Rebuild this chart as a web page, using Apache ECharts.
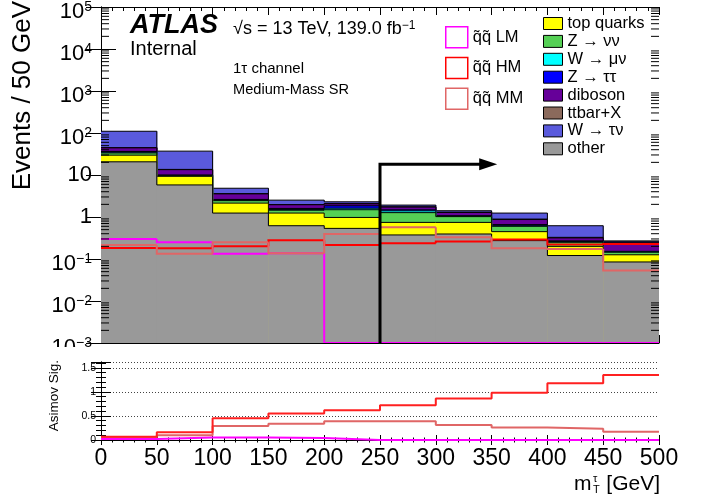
<!DOCTYPE html>
<html><head><meta charset="utf-8">
<script src="https://cdn.jsdelivr.net/npm/echarts@6/dist/echarts.min.js"></script>
<style>html,body{margin:0;padding:0;background:#fff}#c{width:702px;height:501px}</style>
</head><body><div id="c"></div>
<script>
// ---- data ----
const binEdges = [0, 50, 100, 150, 200, 250, 300, 350, 400, 450, 500];
const xTickLabels = ['0','50','100','150','200','250','300','350','400','450','500'];
// backgrounds (Events / 50 GeV), stacking order bottom -> top
const other    = [20.6, 5.8, 1.24, 0.62, 0.536, 0.374, 0.394, 0.274, 0.121, 0.085];
const topQuarks= [9.1, 3.5, 0.90, 0.62, 0.44, 0.37, 0.35, 0.174, 0.079, 0.041];
const zNuNu    = [3.8, 0.3, 0.31, 0.21, 0.515, 0.527, 0.277, 0.152, 0.05, 0.019];
const wMuNu    = [1.5, 0.2, 0.07, 0.05, 0.13, 0.13, 0.02, 0.02, 0.01, 0.003];
const zTauTau  = [1.4, 0.2, 0.10, 0.10, 0.23, 0.08, 0.03, 0.04, 0.01, 0.004];
const diboson  = [7.9, 3.4, 0.93, 0.36, 0.21, 0.24, 0.21, 0.21, 0.048, 0.098];
const ttbarX   = [0.7, 0.2, 0.05, 0.02, 0.03, 0.03, 0.02, 0.023, 0.01, 0.005];
const wTauNu   = [65, 23.4, 1.24, 0.54, 0.21, 0.17, 0.11, 0.347, 0.292, 0.015];
// signals
const sigLM = [0.30, 0.25, 0.133, 0.137, 0, 0, 0, 0, 0, 0];
const sigHM = [0.184, 0.18, 0.20, 0.279, 0.216, 0.237, 0.26, 0.29, 0.222, 0.229];
const sigMM = [0.216, 0.133, 0.25, 0.137, 0.394, 0.567, 0.33, 0.18, 0.172, 0.053];
// Asimov significance
const zHM = [0.07, 0.16, 0.45, 0.55, 0.62, 0.72, 0.86, 0.98, 1.18, 1.35];
const zMM = [0.05, 0.10, 0.29, 0.34, 0.39, 0.39, 0.31, 0.26, 0.235, 0.17];
const zLM = [0.02, 0.05, 0.05, 0.04, 0, 0, 0, 0, 0, 0];
// main y-axis tick labels (exponent -3 .. 5)
const yTickLabels = ['{b|10}{s|\u22123}','{b|10}{s|\u22122}','{b|10}{s|\u22121}','{p|1}','{p|10}','{b|10}{s|2}','{b|10}{s|3}','{b|10}{s|4}','{b|10}{s|5}'];
const yLowTickLabels = ['0', '0.5', '1', '1.5'];
// selection cut
const cutX = 250, arrowY = 18, arrowEnd = 355;

// ---- styling ----
const F = 'Liberation Sans, Arial, Helvetica, sans-serif';
const Y_MIN = 1e-3, Y_MAX = 1e5;
const bgNames  = ['other','top quarks','Z \u2192 \u03bd\u03bd','W \u2192 \u03bc\u03bd','Z \u2192 \u03c4\u03c4','diboson','ttbar+X','W \u2192 \u03c4\u03bd'];
const bgArrays = [other, topQuarks, zNuNu, wMuNu, zTauTau, diboson, ttbarX, wTauNu];
const bgColors = ['#999999','#ffff00','#55d055','#00ffff','#0000ff','#660099','#8b6a5c','#5a5adc'];
const legendOrder = [1,2,3,4,5,6,7,0];
const sigNames  = ['q\u0303q\u0303 LM','q\u0303q\u0303 HM','q\u0303q\u0303 MM'];
const sigArrays = [sigLM, sigHM, sigMM];
const sigColors = ['#ff00ff','#ff0000','#e06666'];

function stepItems(vals) {
  return vals.map((v, i) => [binEdges[i], binEdges[i + 1], v, i > 0 ? vals[i - 1] : v]);
}
function renderHist(fill, stroke, lw) {
  return function (params, api) {
    const x0 = api.value(0), x1 = api.value(1);
    const v = Math.max(api.value(2), Y_MIN), pv = Math.max(api.value(3), Y_MIN);
    const a = api.coord([x0, v]), b = api.coord([x1, v]), c = api.coord([x0, pv]);
    const base = api.coord([x0, Y_MIN]);
    const ch = [];
    if (fill) ch.push({type: 'rect', shape: {x: a[0], y: a[1], width: b[0] - a[0] + 0.5, height: base[1] - a[1]}, style: {fill: fill}});
    ch.push({type: 'polyline', shape: {points: [c, a, b]}, style: {stroke: stroke, lineWidth: lw, fill: null}});
    return {type: 'group', children: ch};
  };
}

// cumulative stack
const cums = [];
bgArrays.forEach((arr, k) => {
  cums.push(arr.map((v, i) => v + (k > 0 ? cums[k - 1][i] : 0)));
});

const series = [];
for (let k = bgArrays.length - 1; k >= 0; k--) {
  series.push({
    type: 'custom', name: bgNames[k], xAxisIndex: 0, yAxisIndex: 0, clip: true,
    itemStyle: {color: bgColors[k]},
    encode: {x: [0, 1], y: 2},
    data: stepItems(cums[k]),
    renderItem: renderHist(bgColors[k], '#000', 1)
  });
}
sigArrays.forEach((arr, i) => {
  series.push({
    type: 'custom', name: sigNames[i], xAxisIndex: 0, yAxisIndex: 0, clip: true,
    itemStyle: {color: sigColors[i]},
    encode: {x: [0, 1], y: 2},
    data: stepItems(arr),
    renderItem: renderHist(null, sigColors[i], 2)
  });
});
// cut arrow
series.push({
  type: 'custom', name: 'cut', xAxisIndex: 0, yAxisIndex: 0, clip: false,
  encode: {x: [0, 2], y: 1},
  data: [[cutX, arrowY, arrowEnd]],
  renderItem: function (params, api) {
    const b = api.coord([api.value(0), Y_MIN]), t = api.coord([api.value(0), api.value(1)]);
    const e = api.coord([api.value(2), api.value(1)]);
    const hl = 18, hw = 6;
    return {type: 'group', children: [
      {type: 'polyline', shape: {points: [b, t, [e[0] - hl + 2, e[1]]]}, style: {stroke: '#000', lineWidth: 3, fill: null}},
      {type: 'polygon', shape: {points: [[e[0] - hl, e[1] - hw], [e[0], e[1]], [e[0] - hl, e[1] + hw]]}, style: {fill: '#000'}}
    ]};
  }
});
// minor log ticks on main panel
const decades = [-3, -2, -1, 0, 1, 2, 3, 4];
series.push({
  type: 'custom', name: 'minorticks', xAxisIndex: 0, yAxisIndex: 0, clip: false, silent: true,
  encode: {x: 0, y: 1},
  data: [[0, 1]],
  renderItem: function (params, api) {
    const ch = [];
    decades.forEach(n => {
      for (let k = 2; k <= 9; k++) {
        const v = k * Math.pow(10, n);
        const l = api.coord([0, v]), r = api.coord([500, v]);
        ch.push({type: 'line', shape: {x1: l[0], y1: l[1], x2: l[0] + 8, y2: l[1]}, style: {stroke: '#000', lineWidth: 1}});
        ch.push({type: 'line', shape: {x1: r[0], y1: r[1], x2: r[0] - 8, y2: r[1]}, style: {stroke: '#000', lineWidth: 1}});
      }
    });
    return {type: 'group', children: ch};
  }
});
// significance panel
function stepLine(vals) {
  const d = vals.map((v, i) => [binEdges[i], v]);
  d.push([binEdges[binEdges.length - 1], vals[vals.length - 1]]);
  return d;
}
[[zMM, '#e06666', 'zMM'], [zHM, '#ff2020', 'zHM'], [zLM, '#ff00ff', 'zLM']].forEach(([arr, col, nm]) => {
  series.push({
    type: 'line', name: nm, xAxisIndex: 2, yAxisIndex: 2, step: 'end', showSymbol: false, symbol: 'none',
    lineStyle: {color: col, width: 2}, itemStyle: {color: col}, data: stepLine(arr), silent: true
  });
});

const axLine = {lineStyle: {color: '#000', width: 1}};
function xAx(grid, pos, labels, tl, ml) {
  return {
    gridIndex: grid, type: 'value', min: 0, max: 500, interval: 50, position: pos,
    axisLine: axLine,
    axisTick: {inside: true, length: tl, lineStyle: {color: '#000'}},
    minorTick: {show: true, splitNumber: 5, length: ml, lineStyle: {color: '#000'}},
    splitLine: {show: false},
    axisLabel: labels ? {show: true, fontSize: 23, fontFamily: F, color: '#000', margin: 7,
      formatter: v => xTickLabels[binEdges.indexOf(v)] ?? ''} : {show: false}
  };
}

const option = {
  animation: false,
  backgroundColor: '#fff',
  textStyle: {fontFamily: F},
  grid: [
    {left: 101, top: 5, width: 558, height: 338},
    {left: 101, top: 362, width: 558, height: 78}
  ],
  xAxis: [
    xAx(0, 'bottom', false, 8, 4),
    xAx(0, 'top', false, 8, 4),
    xAx(1, 'bottom', true, 5, 2.5),
    xAx(1, 'top', false, 5, 2.5)
  ],
  yAxis: [
    {gridIndex: 0, type: 'log', logBase: 10, min: Y_MIN, max: Y_MAX, interval: 1, position: 'left',
     axisLine: axLine, axisTick: {inside: true, length: 15, lineStyle: {color: '#000'}}, splitLine: {show: false},
     axisLabel: {margin: 9, color: '#000', fontFamily: F,
       formatter: v => yTickLabels[Math.round(Math.log10(v)) + 3] || '',
       rich: {
         b: {fontSize: 22, fontFamily: F, color: '#000', padding: [10, 0, 0, 0], verticalAlign: 'bottom'},
         s: {fontSize: 14, fontFamily: F, color: '#000', padding: [0, 0, 9, 0], verticalAlign: 'bottom'},
         p: {fontSize: 22, fontFamily: F, color: '#000'}
       }}},
    {gridIndex: 0, type: 'log', logBase: 10, min: Y_MIN, max: Y_MAX, interval: 1, position: 'right',
     axisLine: axLine, axisTick: {inside: true, length: 15, lineStyle: {color: '#000'}}, splitLine: {show: false},
     axisLabel: {show: false}},
    {gridIndex: 1, type: 'value', min: 0, max: 1.62, interval: 0.5, position: 'left',
     axisLine: axLine, axisTick: {inside: true, length: 10, lineStyle: {color: '#000'}},
     minorTick: {show: true, splitNumber: 5, length: 5, lineStyle: {color: '#000'}},
     splitLine: {show: true, lineStyle: {color: '#444', type: [1, 2], width: 1}},
     axisLabel: {margin: 5, fontSize: 10.5, fontFamily: F, color: '#000',
       formatter: v => { const i = [0, 0.5, 1, 1.5].indexOf(v); return i >= 0 ? yLowTickLabels[i] : ''; }}},
    {gridIndex: 1, type: 'value', min: 0, max: 1.62, interval: 0.5, position: 'right',
     axisLine: axLine, axisTick: {inside: true, length: 10, lineStyle: {color: '#000'}},
     minorTick: {show: true, splitNumber: 5, length: 5, lineStyle: {color: '#000'}},
     splitLine: {show: false}, axisLabel: {show: false}}
  ],
  legend: [
    {orient: 'vertical', left: 445, top: 26, padding: 0, itemWidth: 22, itemHeight: 21, itemGap: 8.2,
     icon: 'rect', selectedMode: false,
     textStyle: {fontSize: 16.5, fontFamily: F, color: '#000'},
     data: sigNames.map((n, i) => ({name: n, icon: 'rect', itemStyle: {color: '#fff', borderColor: sigColors[i], borderWidth: 1.5}}))},
    {orient: 'vertical', left: 543, top: 15, padding: 0, itemWidth: 19, itemHeight: 12, itemGap: 0.9,
     icon: 'rect', selectedMode: false,
     textStyle: {fontSize: 16.5, fontFamily: F, color: '#000'},
     data: legendOrder.map(k => ({name: bgNames[k], icon: 'rect', itemStyle: {color: bgColors[k], borderColor: '#000', borderWidth: 1}}))}
  ],
  graphic: [
    {type: 'rect', z: 100, shape: {x: 30, y: 347, width: 69, height: 12}, style: {fill: '#fff'}},
    {type: 'text', z: 100, x: 130, y: 25.5, style: {text: 'ATLAS', fontSize: 27, fontWeight: 'bold', fontStyle: 'italic', fontFamily: F, fill: '#000', align: 'left', verticalAlign: 'middle'}},
    {type: 'text', z: 100, x: 130, y: 49, style: {text: 'Internal', fontSize: 20, fontFamily: F, fill: '#000', align: 'left', verticalAlign: 'middle'}},
    {type: 'text', z: 100, x: 233, y: 28.7, style: {text: '\u221as = 13 TeV, 139.0 fb{s|\u22121}', fontSize: 18, fontFamily: F, fill: '#000', align: 'left', verticalAlign: 'middle',
      rich: {s: {fontSize: 12, fontFamily: F, fill: '#000', verticalAlign: 'top'}}}},
    {type: 'text', z: 100, x: 233, y: 69, style: {text: '1\u03c4 channel', fontSize: 15, fontFamily: F, fill: '#000', align: 'left', verticalAlign: 'middle'}},
    {type: 'text', z: 100, x: 233, y: 90, style: {text: 'Medium-Mass SR', fontSize: 14.6, fontFamily: F, fill: '#000', align: 'left', verticalAlign: 'middle'}},
    {type: 'text', z: 100, x: 23, y: 1, rotation: Math.PI / 2, style: {text: 'Events / 50 GeV', fontSize: 26, fontFamily: F, fill: '#000', align: 'right', verticalAlign: 'middle'}},
    {type: 'text', z: 100, x: 54, y: 360, rotation: Math.PI / 2, style: {text: 'Asimov Sig.', fontSize: 13.5, fontFamily: F, fill: '#000', align: 'right', verticalAlign: 'middle'}},
    {type: 'text', z: 100, x: 574, y: 484.6, style: {text: 'm', fontSize: 21, fontFamily: F, fill: '#000', align: 'left', verticalAlign: 'middle'}},
    {type: 'text', z: 100, x: 593, y: 479, style: {text: '\u03c4', fontSize: 11, fontFamily: F, fill: '#000', align: 'left', verticalAlign: 'middle'}},
    {type: 'text', z: 100, x: 593, y: 489.5, style: {text: 'T', fontSize: 11, fontFamily: F, fill: '#000', align: 'left', verticalAlign: 'middle'}},
    {type: 'text', z: 100, x: 660, y: 484.6, style: {text: '[GeV]', fontSize: 21, fontFamily: F, fill: '#000', align: 'right', verticalAlign: 'middle'}}
  ],
  series: series
};
const chart = echarts.init(document.getElementById('c'), null, {renderer: 'canvas'});
chart.setOption(option);
</script>
</body></html>
